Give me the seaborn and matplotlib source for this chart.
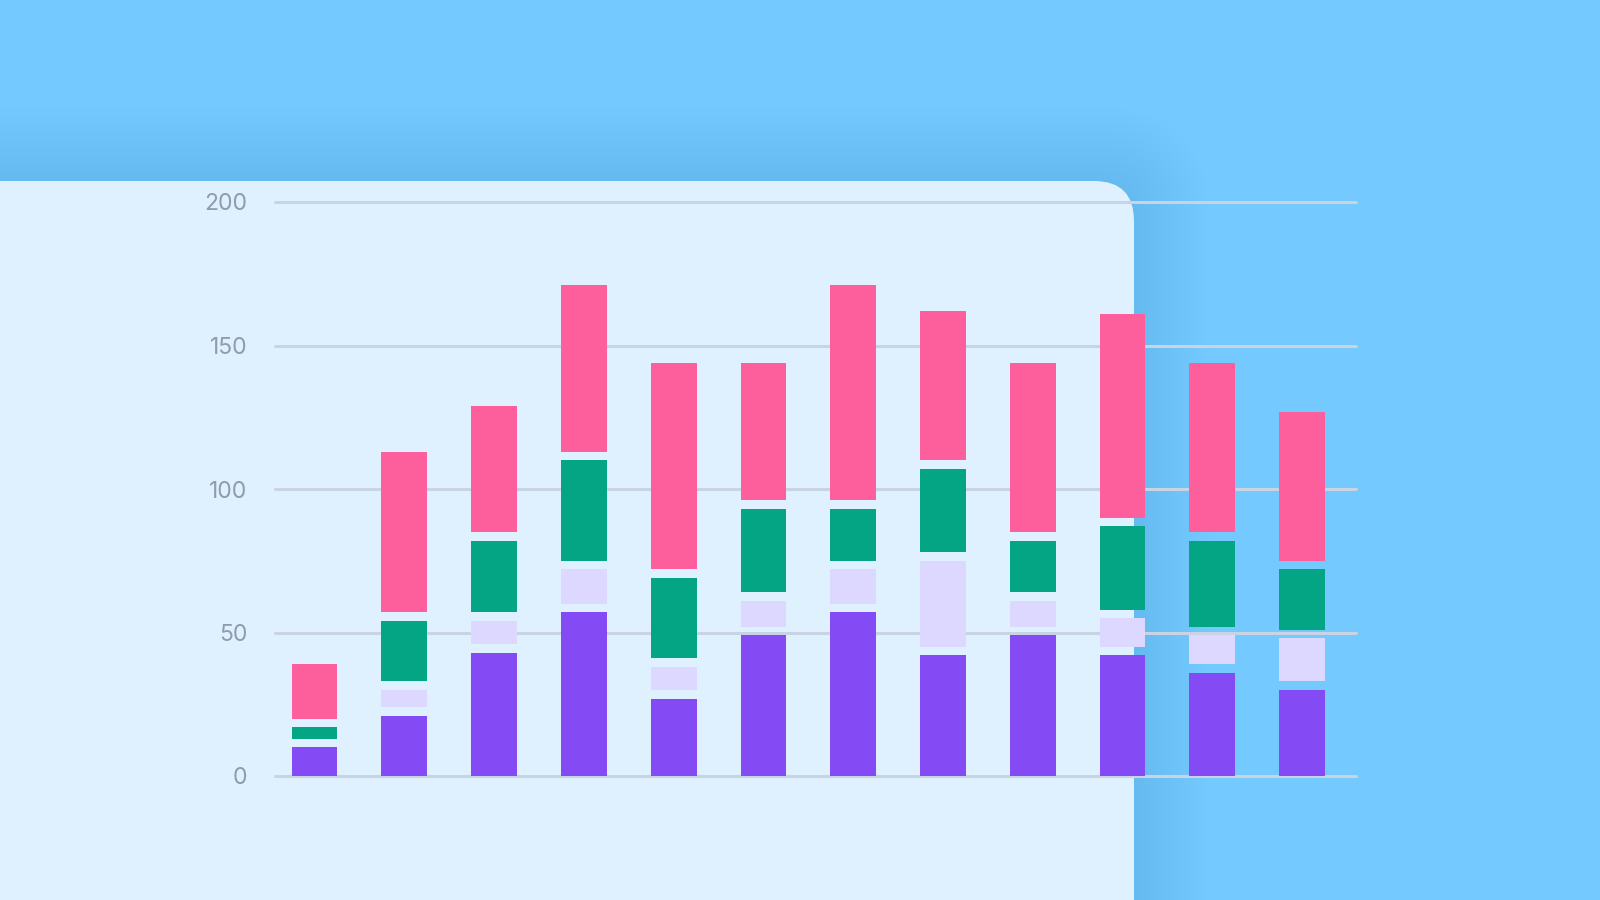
import numpy as np
import pandas as pd
import seaborn as sns
import matplotlib.pyplot as plt
from matplotlib.patches import FancyBboxPatch

# data (segment sizes, bottom to top)
months = ["1", "2", "3", "4", "5", "6", "7", "8", "9", "10", "11", "12"]
purple = [10, 21, 43, 57, 27, 49, 57, 42, 49, 42, 36, 30]
lavender = [0, 9, 11, 15, 11, 12, 15, 33, 12, 13, 13, 18]
green = [7, 24, 28, 38, 31, 32, 21, 32, 21, 32, 33, 24]
pink = [22, 59, 47, 61, 75, 51, 78, 55, 62, 74, 62, 55]
y_ticks = [0, 50, 100, 150, 200]

series = [("purple", purple, "#844BF5"),
          ("lavender", lavender, "#DDD8FF"),
          ("green", green, "#04A584"),
          ("pink", pink, "#FD5E9C")]
gap = 3

sns.set_style("white")
plt.rcParams["font.family"] = ["Inter", "DejaVu Sans"]

fig = plt.figure(figsize=(16, 9), dpi=100)
fig.patch.set_facecolor("#74C9FE")

# background card with soft shadow
bg = fig.add_axes([0, 0, 1, 1], zorder=0)
bg.set_xlim(0, 1600)
bg.set_ylim(0, 900)
bg.axis("off")
for k in range(1, 16):
    grow = k * 5
    bg.add_patch(FancyBboxPatch((-100, -100), 1234 + grow, 819 + grow,
                                boxstyle="round,pad=0,rounding_size=%d" % (40 + grow),
                                facecolor="#2C7FB8", edgecolor="none", alpha=0.005))
bg.add_patch(FancyBboxPatch((-100, -100), 1234, 819,
                            boxstyle="round,pad=0,rounding_size=40",
                            facecolor="#DFF0FF", edgecolor="none"))

ax = fig.add_axes([275 / 1600, 124 / 900, 1081 / 1600, 574 / 900], zorder=2)
ax.patch.set_alpha(0)

cum = np.zeros(len(months))
for i, (name, vals, col) in enumerate(series):
    vals = np.array(vals, dtype=float)
    off = gap if i > 0 else 0
    heights = np.clip(vals - off, 0, None)
    df = pd.DataFrame({"month": months, "value": heights})
    sns.barplot(data=df, x="month", y="value", order=months, color=col,
                width=0.51, linewidth=0, edgecolor="none", saturation=1,
                bottom=cum + off, ax=ax, zorder=3)
    cum = cum + vals

ax.set_xlim(-0.44, 11.6)
ax.set_ylim(0, 200)
ax.set_yticks(y_ticks)
ax.set_xticks([])
ax.set_xlabel("")
ax.set_ylabel("")
ax.yaxis.grid(True, color="#C9D3E3", linewidth=2.2, zorder=0)
ax.xaxis.grid(False)
for ln in ax.get_ygridlines():
    ln.set_clip_on(False)
ax.set_axisbelow(True)
ax.tick_params(axis="y", length=0, pad=20, labelsize=16.5, labelcolor="#8F9CAE")
sns.despine(ax=ax, left=True, bottom=True)

fig.savefig("out.png", dpi=100, facecolor=fig.get_facecolor())
